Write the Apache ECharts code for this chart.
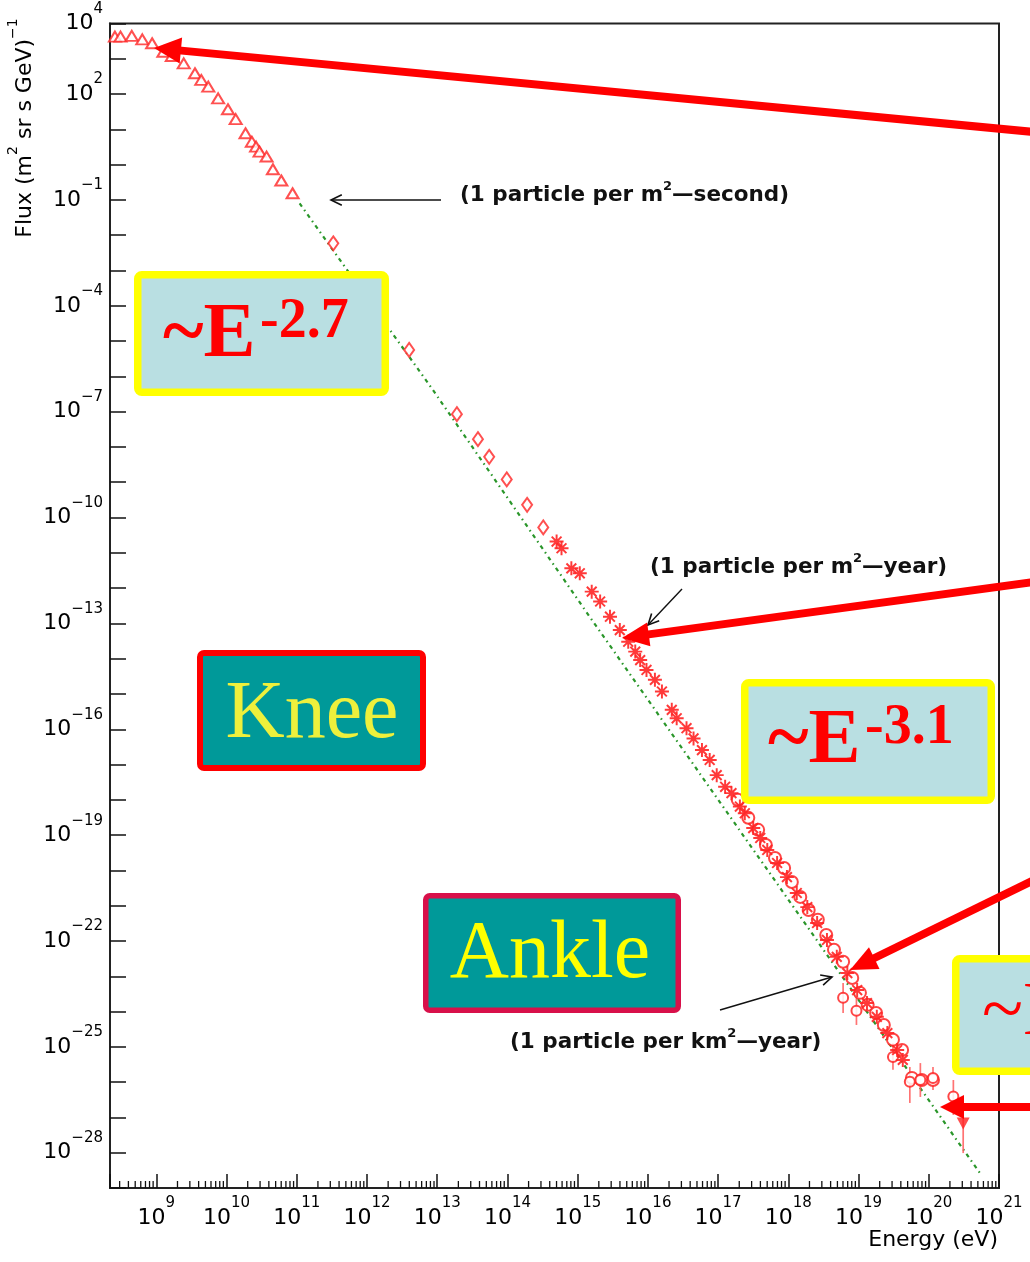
<!DOCTYPE html>
<html>
<head>
<meta charset="utf-8">
<title>Cosmic-ray energy spectrum</title>
<script src="https://cdn.jsdelivr.net/npm/echarts@6/dist/echarts.min.js"></script>
<style>
  html, body { margin: 0; padding: 0; background: #fff; }
  #chart { width: 1030px; height: 1262px; }
</style>
</head>
<body>
<div id="chart"></div>
<script>
// All-particle cosmic-ray flux versus energy. Both axes carry log10 values:
// x = log10(E / eV), y = log10(flux / (m^2 sr s GeV)^-1).

// Axis tick labels (exponents of ten)
const xLabelExponents = [9, 10, 11, 12, 13, 14, 15, 16, 17, 18, 19, 20, 21];
const yLabelExponents = [4, 2, -1, -4, -7, -10, -13, -16, -19, -22, -25, -28];

// Direct measurements (open triangles)
const directLogE    = [8.41, 8.49, 8.65, 8.80, 8.94, 9.10, 9.22, 9.39, 9.55, 9.64, 9.74, 9.88, 10.02, 10.13, 10.27, 10.36, 10.42, 10.47, 10.57, 10.66, 10.78, 10.94];
const directLogFlux = [3.63, 3.63, 3.65, 3.55, 3.44, 3.20, 3.08, 2.87, 2.59, 2.40, 2.21, 1.88, 1.57, 1.29, 0.89, 0.65, 0.51, 0.37, 0.23, -0.13, -0.45, -0.81];

// Balloon / satellite points (open diamonds)
const balloonLogE    = [11.52, 12.60, 13.28, 13.58, 13.74, 13.99, 14.28, 14.51];
const balloonLogFlux = [-2.23, -5.25, -7.07, -7.78, -8.28, -8.92, -9.64, -10.28];

// Air-shower array points (asterisks)
const showerLogE    = [14.70, 14.77, 14.91, 15.03, 15.20, 15.32, 15.46, 15.60, 15.72, 15.82, 15.89, 15.98, 16.10, 16.20, 16.34, 16.41, 16.55, 16.65, 16.77, 16.88, 16.98, 17.10, 17.19, 17.31, 17.38, 17.50, 17.60, 17.70, 17.84, 17.98, 18.12, 18.27, 18.41, 18.55, 18.69, 18.84, 18.98, 19.12, 19.26, 19.41, 19.55, 19.63];
const showerLogFlux = [-10.68, -10.87, -11.44, -11.58, -12.10, -12.38, -12.81, -13.19, -13.52, -13.80, -14.04, -14.32, -14.60, -14.93, -15.45, -15.69, -15.97, -16.26, -16.59, -16.87, -17.30, -17.63, -17.81, -18.19, -18.38, -18.80, -19.08, -19.42, -19.79, -20.19, -20.64, -21.04, -21.49, -21.97, -22.45, -22.91, -23.39, -23.76, -24.15, -24.61, -25.09, -25.37];

// Giant-array points (open circles)
const giantLogE    = [17.28, 17.43, 17.57, 17.68, 17.81, 17.94, 18.05, 18.17, 18.29, 18.42, 18.54, 18.65, 18.78, 18.91, 19.02, 19.13, 19.25, 19.36, 19.49, 19.62, 19.76, 19.90, 20.06];
const giantLogFlux = [-18.00, -18.51, -18.85, -19.28, -19.65, -19.93, -20.33, -20.75, -21.12, -21.40, -21.83, -22.25, -22.59, -23.05, -23.47, -23.81, -24.04, -24.38, -24.80, -25.09, -25.88, -25.94, -25.94];

// Highest-energy points with error bars
const highLogE    = [18.78, 18.97, 19.49, 19.73, 19.88, 20.06, 20.35];
const highLogFlux = [-23.61, -23.98, -25.29, -25.99, -25.94, -25.88, -26.41];
const highLogLow  = [-24.04, -24.38, -25.65, -26.59, -26.42, -26.22, -26.93];
const highLogHigh = [-23.19, -23.59, -24.89, -25.57, -25.46, -25.57, -25.94];

// Last point (filled, inverted triangle)
const topLogE    = [20.49];
const topLogFlux = [-27.17];
const topLogLow  = [-28.01];
const topLogHigh = [-26.59];

// Power-law reference line (green dash-dot)
const fitLogE    = [11.04, 12.94, 15.17, 18.17, 20.63, 20.74];
const fitLogFlux = [-1.10, -6.39, -12.81, -21.31, -28.30, -28.61];

const X_MIN = 8.34, X_MAX = 21, Y_MIN = -29, Y_MAX = 4;

const zip = (a, b) => a.map((v, i) => [v, b[i]]);
const expText = v => (v < 0 ? '\u2212' + (-v) : String(v));

const RED = '#ff2424';
const TICK_FONT = 'DejaVu Sans';

// Minor ticks at 2..9 x 10^n along the energy axis
const minorTicks = [];
for (let n = 8; n <= 20; n++) {
  for (let k = 2; k <= 9; k++) {
    const v = n + Math.log10(k);
    if (v > X_MIN && v < X_MAX) minorTicks.push([v, Y_MIN]);
  }
}

// "10" centred on the tick, exponent raised above it
const labelRich = {
  b: { fontSize: 22, fontFamily: TICK_FONT, color: '#000', lineHeight: 44, verticalAlign: 'middle' },
  s: { fontSize: 15, fontFamily: TICK_FONT, color: '#000', verticalAlign: 'top' }
};

const asterisk = 'path://M-0.7,-5L0.7,-5L0.7,5L-0.7,5Z' +
  'M-5,-0.7L5,-0.7L5,0.7L-5,0.7Z' +
  'M-3.0,-4.0L4.0,3.0L3.0,4.0L-4.0,-3.0Z' +
  'M4.0,-3.0L-3.0,4.0L-4.0,3.0L3.0,-4.0Z';

function errorBarSeries(xs, lows, highs) {
  return {
    type: 'custom',
    coordinateSystem: 'cartesian2d',
    silent: true,
    z: 3,
    data: xs.map((x, i) => [x, lows[i], highs[i]]),
    encode: { x: 0, y: [1, 2] },
    renderItem: (params, api) => {
      const a = api.coord([api.value(0), api.value(1)]);
      const b = api.coord([api.value(0), api.value(2)]);
      return {
        type: 'line',
        shape: { x1: a[0], y1: a[1], x2: b[0], y2: b[1] },
        style: { stroke: '#ff5a5a', lineWidth: 1.7, opacity: 0.85 }
      };
    }
  };
}

// ---- annotation helpers (boxes, labels, arrows) ----
function box(x0, y0, x1, y1, fill, stroke, lw) {
  return {
    type: 'rect', z: 100,
    shape: { x: x0 + lw / 2, y: y0 + lw / 2, width: x1 - x0 - lw, height: y1 - y0 - lw, r: 4 },
    style: { fill: fill, stroke: stroke, lineWidth: lw }
  };
}
function txt(x, y, text, font, fill, align) {
  return {
    type: 'text', z: 101, x: x, y: y,
    style: { text: text, font: font, fill: fill, align: align || 'left', verticalAlign: 'middle' }
  };
}
function bigArrow(tail, tip, lw, headLen, headHalf) {
  const dx = tail[0] - tip[0], dy = tail[1] - tip[1];
  const L = Math.hypot(dx, dy), ux = dx / L, uy = dy / L;
  const bx = tip[0] + ux * headLen, by = tip[1] + uy * headLen;
  const px = -uy, py = ux;
  return [
    { type: 'line', z: 110, shape: { x1: tail[0], y1: tail[1], x2: bx - ux * 2, y2: by - uy * 2 },
      style: { stroke: '#ff0000', lineWidth: lw } },
    { type: 'polygon', z: 110,
      shape: { points: [tip, [bx + px * headHalf, by + py * headHalf], [bx - px * headHalf, by - py * headHalf]] },
      style: { fill: '#ff0000' } }
  ];
}
function thinArrow(tail, tip) {
  const dx = tail[0] - tip[0], dy = tail[1] - tip[1];
  const L = Math.hypot(dx, dy), ux = dx / L, uy = dy / L;
  const c = Math.cos(0.45), s = Math.sin(0.45), h = 12;
  const a1 = [tip[0] + h * (ux * c - uy * s), tip[1] + h * (uy * c + ux * s)];
  const a2 = [tip[0] + h * (ux * c + uy * s), tip[1] + h * (uy * c - ux * s)];
  return [
    { type: 'line', z: 90, shape: { x1: tail[0], y1: tail[1], x2: tip[0], y2: tip[1] },
      style: { stroke: '#111', lineWidth: 1.4 } },
    { type: 'polyline', z: 90, shape: { points: [a1, tip, a2] },
      style: { stroke: '#111', lineWidth: 1.6, fill: null } }
  ];
}
function noteText(x, y, pre, post) {
  return {
    type: 'text', z: 90, x: x, y: y,
    style: {
      text: '{a|' + pre + '}{s|2}{a|' + post + '}',
      align: 'left', verticalAlign: 'middle',
      rich: {
        a: { fontSize: 21.5, fontFamily: 'DejaVu Sans', fontWeight: 'bold', fill: '#111', lineHeight: 26, verticalAlign: 'bottom' },
        s: { fontSize: 13, fontFamily: 'DejaVu Sans', fontWeight: 'bold', fill: '#111', verticalAlign: 'top' }
      }
    }
  };
}

const LIGHT = '#b9dfe2', TEAL = '#009999', YELLOW = '#ffff00';
const BOLD_SERIF = 'bold 78px "Liberation Serif"';
const BOLD_SERIF_SUP = 'bold 56px "Liberation Serif"';
const SERIF = '82px "Liberation Serif"';

const graphics = [].concat(
  // axis titles
  [{
    type: 'text', z: 50, x: 21, y: 128, rotation: Math.PI / 2,
    style: {
      text: '{a|Flux (m}{s|2}{a| sr s GeV)}{s|\u22121}',
      align: 'center', verticalAlign: 'middle',
      rich: {
        a: { fontSize: 22, fontFamily: TICK_FONT, fill: '#000', lineHeight: 30, verticalAlign: 'bottom' },
        s: { fontSize: 14, fontFamily: TICK_FONT, fill: '#000', verticalAlign: 'top' }
      }
    }
  },
  { type: 'text', z: 50, x: 998, y: 1240, style: { text: 'Energy (eV)', font: '22px "DejaVu Sans"', fill: '#000', align: 'right', verticalAlign: 'middle' } }],

  // flux-rate notes with thin arrows
  [noteText(460, 193, '(1 particle per m', '\u2014second)')],
  thinArrow([441, 200], [331, 200]),
  [noteText(650, 565, '(1 particle per m', '\u2014year)')],
  thinArrow([682, 589], [648, 625]),
  [noteText(510, 1040, '(1 particle per km', '\u2014year)')],
  thinArrow([720, 1010], [832, 977]),

  // labelled boxes
  [box(134, 271, 389, 396, LIGHT, YELLOW, 7.5),
   txt(163, 336, '~E', BOLD_SERIF, '#ff0000'),
   txt(260, 323, '-2.7', BOLD_SERIF_SUP, '#ff0000'),

   box(197, 650, 426, 771, TEAL, '#ff0000', 6),
   txt(312, 715, 'Knee', SERIF, '#eef03c', 'center'),

   box(741, 679, 995, 804, LIGHT, YELLOW, 7.5),
   txt(768, 742, '~E', BOLD_SERIF, '#ff0000'),
   txt(865, 729, '-3.1', BOLD_SERIF_SUP, '#ff0000'),

   box(423, 893, 681, 1013, TEAL, '#d8104a', 5.5),
   txt(550, 955, 'Ankle', SERIF, '#ffff00', 'center'),

   box(952, 955, 1060, 1075, LIGHT, YELLOW, 7.5),
   txt(982, 1014, '~E', '76px "Liberation Serif"', '#ff0000')],

  // thick pointers
  bigArrow([1034, 132], [154, 48], 8, 27, 13),
  bigArrow([1034, 582], [622, 638], 8, 27, 12),
  bigArrow([1034, 880], [850, 970], 8, 27, 12),
  bigArrow([1034, 1107], [940, 1107], 8, 24, 12)
);

const option = {
  animation: false,
  backgroundColor: '#ffffff',
  grid: {
    left: 110, right: 31, top: 23.5, bottom: 74,
    show: true, borderColor: '#222', borderWidth: 2, backgroundColor: 'transparent'
  },
  xAxis: {
    type: 'value', min: X_MIN, max: X_MAX, splitNumber: 13,
    splitLine: { show: false },
    axisLine: { show: true, onZero: false, lineStyle: { color: '#222', width: 2 } },
    axisTick: { show: true, inside: true, length: 14, lineStyle: { color: '#111', width: 1.5 } },
    axisLabel: {
      interval: 0, margin: 8, showMinLabel: true, showMaxLabel: true,
      formatter: v => (Number.isInteger(v) && xLabelExponents.includes(v) ? '{b|10}{s|' + expText(v) + '}' : ''),
      rich: labelRich
    }
  },
  yAxis: {
    type: 'value', min: Y_MIN, max: Y_MAX, interval: 1,
    splitLine: { show: false },
    axisLine: { show: true, onZero: false, lineStyle: { color: '#222', width: 2 } },
    axisTick: { show: true, inside: true, length: 16, lineStyle: { color: '#111', width: 1.5 } },
    axisLabel: {
      interval: 0, margin: 7, showMinLabel: true, showMaxLabel: true,
      formatter: v => (yLabelExponents.includes(v) ? '{b|10}{s|' + expText(v) + '}' : ''),
      rich: labelRich
    }
  },
  series: [
    {
      // minor energy ticks
      type: 'custom', coordinateSystem: 'cartesian2d', silent: true, clip: false, z: 5,
      data: minorTicks, encode: { x: 0, y: 1 },
      renderItem: (params, api) => {
        const p = api.coord([api.value(0), api.value(1)]);
        return { type: 'line', shape: { x1: p[0], y1: p[1], x2: p[0], y2: p[1] - 7 }, style: { stroke: '#111', lineWidth: 1.3 } };
      }
    },
    {
      name: 'power law', type: 'line', data: zip(fitLogE, fitLogFlux),
      symbol: 'none', silent: true, z: 1,
      lineStyle: { color: '#2a962a', width: 2.2, type: [4, 4, 1.5, 4] }
    },
    {
      name: 'direct', type: 'scatter', data: zip(directLogE, directLogFlux),
      symbol: 'emptyTriangle', symbolSize: [12, 10], z: 4,
      itemStyle: { color: RED, borderWidth: 1.3, opacity: 0.8 }
    },
    {
      name: 'balloon', type: 'scatter', data: zip(balloonLogE, balloonLogFlux),
      symbol: 'emptyDiamond', symbolSize: [10, 14], z: 4,
      itemStyle: { color: RED, borderWidth: 1.3, opacity: 0.8 }
    },
    {
      name: 'giant array', type: 'scatter', data: zip(giantLogE, giantLogFlux),
      symbol: 'emptyCircle', symbolSize: 12, z: 4,
      itemStyle: { color: RED, borderWidth: 1.9, opacity: 0.85 }
    },
    {
      name: 'air shower', type: 'scatter', data: zip(showerLogE, showerLogFlux),
      symbol: asterisk, symbolSize: 14, z: 5,
      itemStyle: { color: RED, opacity: 0.9 }
    },
    errorBarSeries(highLogE, highLogLow, highLogHigh),
    errorBarSeries(topLogE, topLogLow, topLogHigh),
    {
      name: 'highest', type: 'scatter', data: zip(highLogE, highLogFlux),
      symbol: 'emptyCircle', symbolSize: 10, z: 4,
      itemStyle: { color: RED, borderWidth: 1.5, opacity: 0.85 }
    },
    {
      name: 'top', type: 'scatter', data: zip(topLogE, topLogFlux),
      symbol: 'triangle', symbolRotate: 180, symbolSize: [13, 12], z: 4,
      itemStyle: { color: '#ff2020' }
    }
  ],
  graphic: graphics
};

const chart = echarts.init(document.getElementById('chart'), null, { renderer: 'canvas' });
chart.setOption(option);
</script>
</body>
</html>
